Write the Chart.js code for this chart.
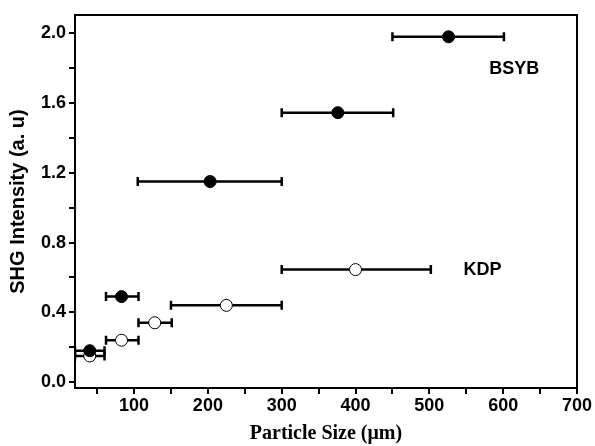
<!DOCTYPE html>
<html lang="en">
<head>
    <meta charset="UTF-8">
    <title>SHG Intensity vs Particle Size</title>
    <script src="https://cdn.jsdelivr.net/npm/chart.js"></script>
    <style>
        html, body { margin: 0; padding: 0; background: #fff; }
        .chart-box { width: 595px; height: 446px; }
    </style>
</head>
<body>
    <div class="chart-box">
        <canvas id="shgChart" width="595" height="446"></canvas>
    </div>

    <script>
        // BSYB (filled circles)
        const bsybX = [40, 83, 203, 376, 526];
        const bsybY = [0.18, 0.49, 1.15, 1.545, 1.98];
        const bsybLow = [20, 62, 105, 300, 450];
        const bsybHigh = [60, 106, 300, 451, 601];

        // KDP (open circles)
        const kdpX = [40, 83, 128, 225, 400];
        const kdpY = [0.15, 0.24, 0.34, 0.44, 0.645];
        const kdpLow = [20, 62, 106, 150, 300];
        const kdpHigh = [60, 106, 151, 300, 502];

        const xTicks = [50, 100, 150, 200, 250, 300, 350, 400, 450, 500, 550, 600, 650, 700];
        const yTicks = [0, 0.2, 0.4, 0.6, 0.8, 1.0, 1.2, 1.4, 1.6, 1.8, 2.0];

        const labels = [
            { text: 'BSYB', x: 615, y: 1.795 },
            { text: 'KDP', x: 572, y: 0.64 }
        ];

        const errors = [
            { low: bsybLow, high: bsybHigh, y: bsybY },
            { low: kdpLow, high: kdpHigh, y: kdpY }
        ];

        const errorBars = {
            id: 'errorBars',
            beforeDatasetsDraw(chart) {
                const { ctx, chartArea, scales: { x, y } } = chart;
                ctx.save();
                ctx.beginPath();
                ctx.rect(chartArea.left, chartArea.top, chartArea.right - chartArea.left, chartArea.bottom - chartArea.top);
                ctx.clip();
                ctx.strokeStyle = '#000';
                ctx.lineWidth = 2.5;
                errors.forEach(e => {
                    e.y.forEach((v, i) => {
                        const py = y.getPixelForValue(v);
                        const x1 = x.getPixelForValue(e.low[i]);
                        const x2 = x.getPixelForValue(e.high[i]);
                        ctx.beginPath();
                        ctx.moveTo(x1, py);
                        ctx.lineTo(x2, py);
                        ctx.moveTo(x1, py - 4.5);
                        ctx.lineTo(x1, py + 4.5);
                        ctx.moveTo(x2, py - 4.5);
                        ctx.lineTo(x2, py + 4.5);
                        ctx.stroke();
                    });
                });
                ctx.restore();
            },
            afterDraw(chart) {
                const { ctx, chartArea, scales: { x, y } } = chart;
                ctx.save();
                ctx.strokeStyle = '#000';
                ctx.lineWidth = 2;
                ctx.strokeRect(chartArea.left, chartArea.top, chartArea.right - chartArea.left, chartArea.bottom - chartArea.top);
                ctx.fillStyle = '#000';
                ctx.font = 'bold 18px "Liberation Sans", Arial, sans-serif';
                ctx.textAlign = 'center';
                ctx.textBaseline = 'middle';
                labels.forEach(l => {
                    ctx.fillText(l.text, x.getPixelForValue(l.x), y.getPixelForValue(l.y));
                });
                ctx.restore();
            }
        };

        const tickFont = { family: '"Liberation Sans", Arial, sans-serif', size: 18, weight: 'bold' };

        new Chart(document.getElementById('shgChart'), {
            type: 'scatter',
            data: {
                datasets: [
                    {
                        label: 'BSYB',
                        data: bsybX.map((v, i) => ({ x: v, y: bsybY[i] })),
                        backgroundColor: '#000',
                        borderColor: '#000',
                        borderWidth: 1,
                        pointRadius: 6,
                        order: 0
                    },
                    {
                        label: 'KDP',
                        data: kdpX.map((v, i) => ({ x: v, y: kdpY[i] })),
                        backgroundColor: '#fff',
                        borderColor: '#000',
                        borderWidth: 1,
                        pointRadius: 6,
                        order: 1
                    }
                ]
            },
            options: {
                responsive: false,
                animation: false,
                layout: { padding: { top: 15, right: 18, left: 6, bottom: 0 } },
                plugins: {
                    legend: { display: false },
                    tooltip: { enabled: false }
                },
                scales: {
                    x: {
                        type: 'linear',
                        min: 20,
                        max: 700,
                        afterBuildTicks: s => { s.ticks = xTicks.map(v => ({ value: v })); },
                        afterFit: s => { s.height = 58; },
                        border: { color: '#000', width: 2 },
                        grid: { drawOnChartArea: false, color: '#000', tickLength: 6, lineWidth: 2 },
                        ticks: {
                            color: '#000',
                            font: tickFont,
                            padding: 1,
                            maxRotation: 0,
                            autoSkip: false,
                            callback: v => (v % 100 === 0 ? v : '')
                        },
                        title: {
                            display: true,
                            text: 'Particle Size (\u03bcm)',
                            color: '#000',
                            font: { family: '"Liberation Serif", "Times New Roman", serif', size: 20, weight: 'bold' },
                            padding: { top: 0, bottom: 0 }
                        }
                    },
                    y: {
                        min: -0.034,
                        max: 2.105,
                        afterBuildTicks: s => { s.ticks = yTicks.map(v => ({ value: v })); },
                        afterFit: s => { s.width = 69; },
                        border: { color: '#000', width: 2 },
                        grid: { drawOnChartArea: false, color: '#000', tickLength: 6, lineWidth: 2 },
                        ticks: {
                            color: '#000',
                            font: tickFont,
                            padding: 3,
                            autoSkip: false,
                            callback: v => (Math.round(v * 10) % 4 === 0 ? v.toFixed(1) : '')
                        },
                        title: {
                            display: true,
                            text: 'SHG Intensity (a. u)',
                            color: '#000',
                            font: { family: '"Liberation Sans", Arial, sans-serif', size: 20, weight: 'bold' },
                            padding: { top: 0, bottom: 0 }
                        }
                    }
                }
            },
            plugins: [errorBars]
        });
    </script>
</body>
</html>
